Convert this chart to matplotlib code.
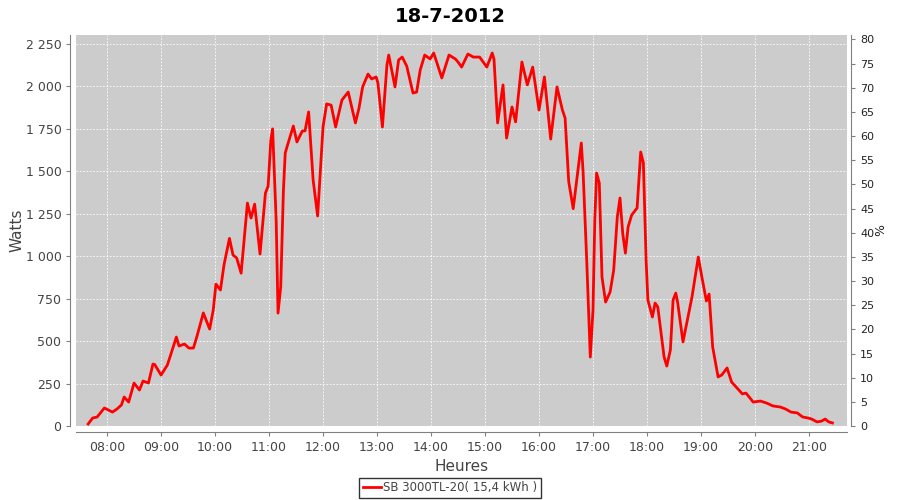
import pandas as pd
import matplotlib
matplotlib.use('Agg')
import matplotlib.pyplot as plt
import matplotlib.dates as mdates
from matplotlib.ticker import FuncFormatter, MultipleLocator

day = '2012-07-18'

times = ['07:39', '07:44', '07:49', '07:57', '08:06', '08:11', '08:16', '08:19', '08:24', '08:30',
         '08:36', '08:40', '08:46', '08:51', '08:53', '09:00', '09:07', '09:11', '09:17', '09:20',
         '09:26', '09:31', '09:36', '09:40', '09:47', '09:54', '09:58', '10:01', '10:06', '10:10',
         '10:16', '10:20', '10:24', '10:29', '10:36', '10:40', '10:44', '10:50', '10:56', '10:59',
         '11:02', '11:04', '11:08', '11:10', '11:13', '11:16', '11:18', '11:20', '11:27', '11:31',
         '11:37', '11:40', '11:44', '11:49', '11:54', '12:00', '12:04', '12:09', '12:14', '12:21',
         '12:28', '12:36', '12:40', '12:44', '12:50', '12:54', '12:59', '13:01', '13:06', '13:11',
         '13:13', '13:20', '13:24', '13:28', '13:33', '13:40', '13:44', '13:48', '13:53', '13:59',
         '14:03', '14:12', '14:20', '14:27', '14:30', '14:34', '14:41', '14:47', '14:54', '15:02',
         '15:08', '15:10', '15:14', '15:20', '15:24', '15:30', '15:34', '15:41', '15:47', '15:53',
         '16:00', '16:06', '16:13', '16:20', '16:26', '16:29', '16:33', '16:38', '16:41', '16:47',
         '16:49', '16:53', '16:57', '17:00', '17:02', '17:04', '17:07', '17:10', '17:14', '17:19',
         '17:23', '17:27', '17:30', '17:33', '17:36', '17:39', '17:43', '17:49', '17:53', '17:56',
         '17:59', '18:01', '18:06', '18:09', '18:12', '18:19', '18:22', '18:26', '18:29', '18:32',
         '18:34', '18:40', '18:44', '18:50', '18:57', '19:01', '19:06', '19:09', '19:13', '19:19',
         '19:23', '19:29', '19:34', '19:40', '19:46', '19:50', '19:58', '20:06', '20:13', '20:20',
         '20:28', '20:34', '20:40', '20:47', '20:53', '20:59', '21:03', '21:09', '21:14', '21:18',
         '21:22', '21:26']

watts = [12, 47, 53, 106, 82, 100, 124, 171, 141, 253,
         212, 265, 253, 365, 362, 300, 359, 424, 524, 471,
         483, 459, 459, 530, 666, 571, 683, 836, 801, 950,
         1105, 1007, 990, 900, 1313, 1225, 1307, 1013, 1372, 1413,
         1685, 1750, 1200, 665, 820, 1390, 1608, 1645, 1767, 1673,
         1738, 1738, 1850, 1449, 1237, 1761, 1897, 1890, 1761, 1920,
         1967, 1785, 1873, 1997, 2073, 2044, 2056, 2020, 1761, 2126,
         2185, 1997, 2156, 2173, 2120, 1961, 1967, 2097, 2185, 2162,
         2197, 2050, 2185, 2162, 2144, 2114, 2191, 2173, 2173, 2114,
         2197, 2160, 1785, 2009, 1696, 1879, 1791, 2144, 2009, 2114,
         1861, 2056, 1690, 1997, 1861, 1814, 1440, 1280, 1408, 1667,
         1496, 978, 406, 683, 1213, 1490, 1431, 877, 730, 789,
         918, 1231, 1343, 1136, 1018, 1172, 1243, 1284, 1614, 1549,
         978, 742, 642, 724, 701, 406, 353, 448, 742, 783,
         730, 495, 600, 760, 995, 877, 736, 777, 465, 289,
         300, 342, 259, 224, 189, 194, 141, 147, 135, 118,
         112, 100, 82, 77, 53, 47, 41, 24, 29, 41,
         24, 18]

title = '18-7-2012'
series_label = 'SB 3000TL-20( 15,4 kWh )'

x = pd.to_datetime([day + ' ' + t for t in times])

fig = plt.figure(figsize=(9, 5), dpi=100)
ax = fig.add_axes([76 / 900, 74 / 500, 771 / 900, 391 / 500])
ax.set_facecolor('#cccccc')

ax.plot(x, watts, color='red', linewidth=2, label=series_label)

ax.set_xlim(pd.Timestamp(day + ' 07:25:30'), pd.Timestamp(day + ' 21:42:15'))
ax.set_ylim(0, 2303)

ax.xaxis.set_major_locator(mdates.HourLocator())
ax.xaxis.set_major_formatter(mdates.DateFormatter('%H:%M'))
ax.yaxis.set_major_locator(MultipleLocator(250))
ax.yaxis.set_major_formatter(FuncFormatter(lambda v, p: f'{int(v):,}'.replace(',', ' ')))

ax.grid(True, color='white', linestyle=(0, (2, 2)), linewidth=0.6)

for side in ['top', 'right']:
    ax.spines[side].set_visible(False)
for side in ['left', 'bottom']:
    ax.spines[side].set_position(('outward', 4))
    ax.spines[side].set_color('#808080')
ax.tick_params(colors='#808080', labelcolor='#444444', labelsize=9, length=3)

ax.set_xlabel('Heures', fontsize=11, color='#444444', labelpad=4)
ax.set_ylabel('Watts', fontsize=11, color='#444444', labelpad=1)

ax2 = ax.twinx()
ax2.set_ylim(0, 80.9)
ax2.yaxis.set_major_locator(MultipleLocator(5))
for side in ['top', 'left', 'bottom']:
    ax2.spines[side].set_visible(False)
ax2.spines['right'].set_position(('outward', 3))
ax2.spines['right'].set_color('#808080')
ax2.tick_params(colors='#808080', labelcolor='#222222', labelsize=8, length=3)
ax2.set_ylabel('%', fontsize=9, color='#222222', labelpad=0)

fig.suptitle(title, fontsize=14, fontweight='bold', y=0.985)

leg = fig.legend(loc='center', bbox_to_anchor=(0.5, 0.024), fontsize=8.5,
                 frameon=True, fancybox=False, handlelength=1.5, handletextpad=0.2,
                 borderpad=0.3, labelcolor='#444444')
leg.get_frame().set_edgecolor('black')
leg.get_frame().set_linewidth(1)

plt.savefig('out.png')
